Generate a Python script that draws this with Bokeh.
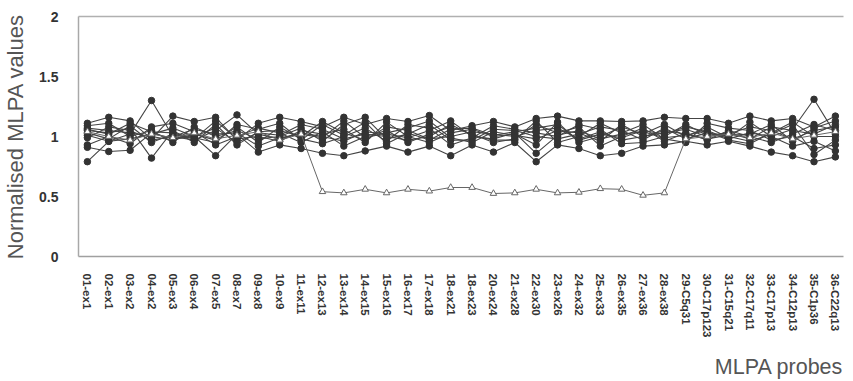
from bokeh.plotting import figure
from bokeh.models import FixedTicker, LinearAxis, Range1d, Title
from bokeh.embed import file_html
from bokeh.resources import INLINE

probes = ["01-ex1", "02-ex1", "03-ex2", "04-ex2", "05-ex3", "06-ex4", "07-ex5", "08-ex7",
          "09-ex8", "10-ex9", "11-ex11", "12-ex13", "13-ex14", "14-ex15", "15-ex16", "16-ex17",
          "17-ex18", "18-ex21", "18-ex23", "20-ex24", "21-ex28", "22-ex30", "23-ex26", "24-ex32",
          "25-ex33", "26-ex35", "27-ex36", "28-ex38", "29-C5q31", "30-C17p123", "31-C15q21",
          "32-C17q11", "33-C17p13", "34-C12p13", "35-C1p36", "36-C22q13"]

s1 = [0.79, 0.96, 1.02, 1.30, 1.00, 0.97, 1.05, 1.18, 1.02, 0.98, 1.03, 1.00, 0.96, 1.04, 1.02, 0.99, 1.05, 1.13,
      1.00, 0.98, 1.03, 0.86, 1.01, 1.05, 0.98, 1.02, 1.04, 0.99, 1.01, 1.05, 0.98, 1.03, 1.00, 1.06, 1.31, 1.02]
s2 = [1.11, 1.16, 1.13, 0.98, 1.17, 1.125, 1.16, 0.97, 1.11, 1.16, 1.125, 1.08, 1.16, 1.10, 1.15, 1.125, 1.175, 1.05,
      1.09, 1.125, 1.08, 1.15, 1.17, 1.13, 1.13, 1.125, 1.13, 1.16, 1.15, 1.15, 1.11, 1.17, 1.13, 1.15, 1.08, 1.17]
s3 = [0.91, 0.875, 0.885, 1.03, 0.98, 1.00, 0.84, 1.02, 0.87, 0.93, 0.90, 0.86, 0.84, 0.88, 0.92, 0.87, 0.92, 0.84,
      0.93, 0.87, 0.95, 0.79, 0.93, 0.90, 0.84, 0.86, 0.92, 0.93, 0.96, 0.93, 0.96, 0.92, 0.87, 0.84, 0.79, 0.83]
s4 = [1.05, 1.03, 1.07, 0.82, 1.05, 0.95, 1.10, 0.93, 1.04, 1.05, 1.00, 1.125, 1.03, 0.97, 1.08, 1.05, 0.98, 1.00,
      1.04, 1.02, 1.00, 1.05, 1.07, 0.98, 1.04, 0.97, 1.00, 1.03, 1.06, 1.00, 1.02, 1.08, 1.05, 0.98, 1.05, 1.08]
s5 = [1.09, 1.11, 1.00, 1.05, 0.95, 1.08, 1.00, 1.05, 0.98, 1.00, 1.07, 0.96, 1.10, 1.16, 0.98, 1.02, 1.10, 0.97,
      0.97, 1.06, 1.05, 1.00, 0.98, 1.02, 1.08, 1.05, 0.97, 1.07, 0.98, 1.03, 1.00, 0.96, 1.02, 1.10, 0.85, 0.97]
s6 = [0.93, 1.00, 0.94, 1.08, 1.11, 1.04, 0.93, 1.00, 1.07, 1.03, 0.95, 1.04, 0.92, 1.00, 1.05, 0.95, 1.02, 1.08,
      1.02, 0.95, 0.98, 1.10, 1.03, 1.08, 0.92, 1.00, 1.07, 0.96, 1.03, 0.97, 1.05, 1.00, 0.95, 1.02, 1.10, 1.05]
s7 = [1.03, 0.98, 1.09, 0.95, 1.02, 0.98, 1.13, 0.98, 1.00, 0.96, 1.05, 1.02, 1.06, 0.95, 1.12, 1.00, 0.95, 1.03,
      1.06, 1.00, 1.02, 0.93, 1.12, 0.95, 1.00, 1.08, 1.02, 1.10, 1.00, 1.08, 0.99, 1.12, 1.00, 0.92, 0.96, 0.88]
s8 = [1.07, 1.05, 1.03, 1.00, 0.97, 1.02, 0.97, 1.08, 0.95, 1.08, 0.98, 0.94, 1.00, 1.07, 0.96, 1.10, 1.07, 0.93,
      0.99, 1.09, 1.06, 1.03, 1.00, 1.10, 1.06, 0.94, 0.95, 1.00, 1.10, 1.01, 1.03, 0.98, 1.08, 1.05, 1.02, 1.10]
s9 = [1.01, 0.96, 0.98, 1.02, 1.07, 1.00, 1.07, 0.95, 1.03, 1.01, 1.10, 1.06, 0.98, 1.02, 1.00, 0.97, 1.00, 1.10,
      1.01, 0.97, 0.97, 1.13, 0.95, 1.00, 1.11, 1.03, 1.10, 0.98, 0.95, 1.11, 1.07, 1.05, 0.97, 1.00, 0.90, 0.93]
s10 = [0.99, 1.08, 1.05, 0.97, 1.00, 1.06, 1.02, 1.03, 0.92, 0.99, 1.02, 0.99, 1.13, 0.99, 1.03, 1.07, 1.13, 0.99,
       0.95, 1.04, 1.01, 0.98, 1.05, 1.03, 0.96, 1.10, 1.00, 1.05, 1.02, 0.98, 1.01, 1.02, 1.10, 0.96, 1.07, 1.13]
s11 = [1.06, 1.02, 1.11, 1.04, 1.03, 0.99, 0.95, 1.10, 1.06, 1.11, 0.97, 1.10, 1.01, 1.12, 0.94, 1.03, 0.97, 1.06,
       1.07, 1.01, 1.04, 1.07, 1.10, 0.97, 1.02, 0.99, 1.05, 1.02, 1.08, 1.04, 0.97, 0.94, 1.03, 1.12, 1.00, 1.00]
deleted = [1.04, 1.00, 0.97, 1.02, 0.99, 1.03, 0.98, 1.01, 1.04, 0.97, 1.02, 0.54, 0.53, 0.56, 0.53, 0.56, 0.545, 0.575,
           0.575, 0.525, 0.53, 0.56, 0.53, 0.535, 0.565, 0.56, 0.51, 0.53, 0.98, 1.00, 1.02, 0.99, 1.03, 0.98, 1.01, 1.04]

normal_series = [s1, s2, s3, s4, s5, s6, s7, s8, s9, s10, s11]
y_ticks = [0, 0.5, 1, 1.5, 2]
y_tick_labels = ["0", "0.5", "1", "1.5", "2"]

xs = list(range(len(probes)))
X_END = 35.38

p = figure(width=845, height=392, output_backend="svg", toolbar_location=None,
           x_range=Range1d(-0.416, X_END), y_range=Range1d(0, 2),
           min_border_left=69, min_border_right=2, min_border_top=16, min_border_bottom=136)
p.outline_line_color = None
p.xgrid.visible = False
p.ygrid.visible = False
p.background_fill_color = "white"

for s in normal_series:
    p.line(xs, s, line_color="#444444", line_width=1.1)
for s in normal_series:
    p.scatter(xs, s, marker="circle", size=6.5, fill_color="#333333", line_color="#333333")
p.line(xs, deleted, line_color="#666666", line_width=1)
p.scatter(xs, deleted, marker="triangle", size=6.5, fill_color="white", line_color="#666666", line_width=1)

# x axis
p.xaxis.ticker = FixedTicker(ticks=xs)
p.xaxis.major_label_overrides = {i: lab for i, lab in enumerate(probes)}
p.xaxis.major_label_orientation = "vertical"
p.xaxis.major_label_text_font = "Liberation Sans"
p.xaxis.major_label_text_font_style = "bold"
p.xaxis.major_label_text_font_size = "11.5px"
p.xaxis.major_label_text_color = "#333333"
p.xaxis.major_tick_line_color = None
p.xaxis.minor_tick_line_color = None
p.xaxis.major_label_standoff = 11
p.xaxis.axis_line_color = "#a0a0a0"
p.xaxis.axis_line_width = 1.5

# y axis
p.yaxis.ticker = FixedTicker(ticks=y_ticks)
p.yaxis.major_label_overrides = {t: l for t, l in zip(y_ticks, y_tick_labels)}
p.yaxis.major_label_text_font = "Liberation Sans"
p.yaxis.major_label_text_font_style = "bold"
p.yaxis.major_label_text_font_size = "14px"
p.yaxis.major_label_text_color = "#333333"
p.yaxis.major_tick_line_color = None
p.yaxis.minor_tick_line_color = None
p.yaxis.major_label_standoff = 14
p.yaxis.axis_line_color = "#a8a8a8"
p.yaxis.axis_line_width = 1.5
p.yaxis.axis_label = "Normalised MLPA values"
p.yaxis.axis_label_text_font = "Liberation Sans"
p.yaxis.axis_label_text_font_style = "normal"
p.yaxis.axis_label_text_font_size = "22px"
p.yaxis.axis_label_text_color = "#555555"
p.yaxis.axis_label_standoff = 8

top = LinearAxis(ticker=FixedTicker(ticks=[]), axis_line_color="#b0b0b0", axis_line_width=1.5,
                 major_tick_line_color=None, minor_tick_line_color=None)
p.add_layout(top, "above")

t = Title(text="MLPA probes", align="right", text_font="Liberation Sans", text_font_style="normal",
          text_font_size="21.5px", text_color="#555555", standoff=24, offset=0)
p.add_layout(t, "below")

open("out.html", "w").write(file_html(p, INLINE))
